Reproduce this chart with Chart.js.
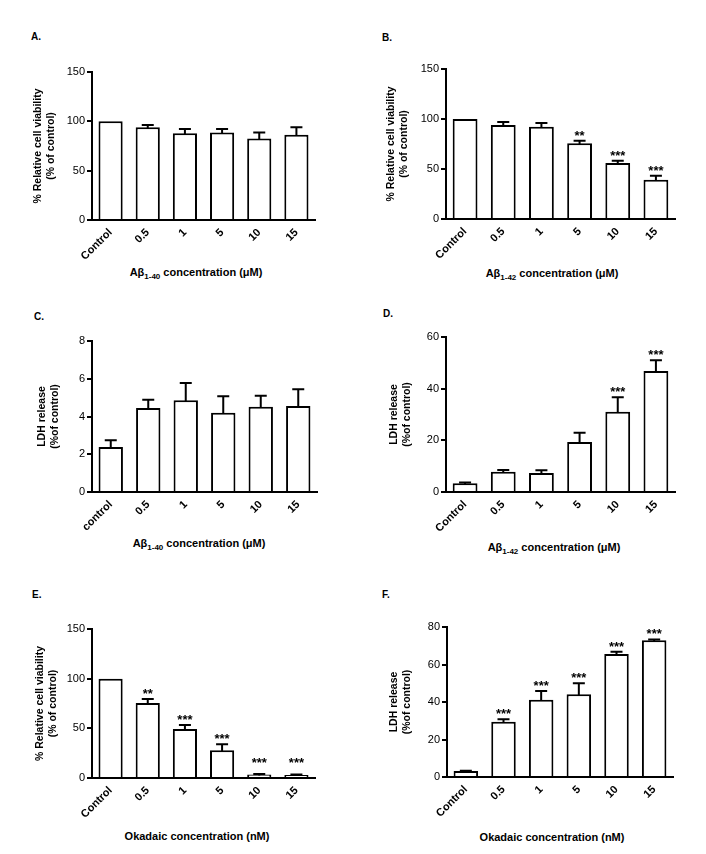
<!DOCTYPE html>
<html>
<head>
<meta charset="utf-8">
<script src="https://cdn.jsdelivr.net/npm/chart.js@4.4.1/dist/chart.umd.min.js"></script>
<style>
  html, body { margin: 0; padding: 0; background: #fff; }
  body { width: 706px; height: 854px; position: relative; overflow: hidden;
         font-family: "Liberation Sans", Arial, sans-serif; color: #000; }
  canvas { position: absolute; }
  .lbl { position: absolute; font-weight: bold; font-size: 10px; line-height: 12px; }
  .xt { position: absolute; font-weight: bold; font-size: 11px; line-height: 14px;
        white-space: nowrap; transform: translate(-50%, -50%); }
  .xt sub { font-size: 8px; vertical-align: -3px; line-height: 0; }
</style>
</head>
<body>
<div class="lbl" style="left:31px; top:31px;">A.</div>
<div class="lbl" style="left:382px; top:32px;">B.</div>
<div class="lbl" style="left:34px; top:311px;">C.</div>
<div class="lbl" style="left:383px; top:308px;">D.</div>
<div class="lbl" style="left:32px; top:589px;">E.</div>
<div class="lbl" style="left:382px; top:589px;">F.</div>

<div class="xt" style="left:196px; top:272px;">A&beta;<sub>1-40</sub> concentration (&mu;M)</div>
<div class="xt" style="left:552px; top:273px;">A&beta;<sub>1-42</sub> concentration (&mu;M)</div>
<div class="xt" style="left:199px; top:543px;">A&beta;<sub>1-40</sub> concentration (&mu;M)</div>
<div class="xt" style="left:554px; top:547px;">A&beta;<sub>1-42</sub> concentration (&mu;M)</div>
<div class="xt" style="left:197px; top:836px;">Okadaic concentration (nM)</div>
<div class="xt" style="left:552px; top:837px;">Okadaic concentration (nM)</div>

<script>
// categories
const doses = ['Control', '0.5', '1', '5', '10', '15'];
const dosesLower = ['control', '0.5', '1', '5', '10', '15'];

// A: viability, Abeta 1-40
const viabA = [100, 93.9, 87.8, 88.8, 82.7, 86.4];
const semA = [0, 2.4, 4.4, 3.4, 6.1, 7.5];
const starsA = ['', '', '', '', '', ''];

// B: viability, Abeta 1-42
const viabB = [100, 94, 92.3, 75.7, 56, 39.3];
const semB = [0, 3, 3.7, 2.6, 2.3, 4];
const starsB = ['', '', '', '**', '***', '***'];

// C: LDH, Abeta 1-40
const ldhC = [2.39, 4.45, 4.86, 4.2, 4.52, 4.56];
const semC = [0.35, 0.44, 0.92, 0.87, 0.58, 0.88];
const starsC = ['', '', '', '', '', ''];

// D: LDH, Abeta 1-42
const ldhD = [3.4, 7.8, 7.4, 19.4, 31.1, 46.8];
const semD = [0.3, 0.7, 1.0, 3.5, 5.6, 4.2];
const starsD = ['', '', '', '', '***', '***'];

// E: viability, okadaic acid
const viabE = [100, 75.5, 49.3, 27.9, 3.4, 3.0];
const semE = [0, 4.0, 4.1, 6.0, 0.6, 0.4];
const starsE = ['', '**', '***', '***', '***', '***'];

// F: LDH, okadaic acid
const ldhF = [3.2, 29.5, 41.2, 44.1, 65.6, 72.9];
const semF = [0.2, 1.3, 4.7, 5.9, 1.2, 0.5];
const starsF = ['', '***', '***', '***', '***', '***'];

Chart.defaults.font.family = '"Liberation Sans", Arial, sans-serif';
Chart.defaults.color = '#000';

// error bars (upper only) + significance stars
const errorBars = {
  id: 'errorBars',
  afterDatasetsDraw(chart) {
    const { ctx, scales: { y } } = chart;
    const ds = chart.data.datasets[0];
    const meta = chart.getDatasetMeta(0);
    const zeroY = y.getPixelForValue(0);
    ctx.save();
    ctx.strokeStyle = '#000';
    ctx.lineWidth = 2;
    meta.data.forEach((bar, i) => {
      let topY = bar.y;
      if (ds.sem[i] > 0) {
        topY = y.getPixelForValue(ds.data[i] + ds.sem[i]);
        ctx.beginPath();
        ctx.moveTo(bar.x, bar.y + 1);
        ctx.lineTo(bar.x, topY);
        ctx.moveTo(bar.x - 6, topY);
        ctx.lineTo(bar.x + 6, topY);
        ctx.stroke();
      }
      if (ds.stars[i]) {
        ctx.fillStyle = '#000';
        ctx.font = 'bold 13px "Liberation Sans", Arial, sans-serif';
        ctx.textAlign = 'center';
        ctx.textBaseline = 'alphabetic';
        ctx.fillText(ds.stars[i], bar.x, Math.min(topY - 1, zeroY - 11));
      }
    });
    ctx.restore();
  }
};

function makePanel(p, labels, values, sem, stars, yMax, yStep, yTitle) {
  const canvas = document.createElement('canvas');
  const top = p.plotTop - 10;
  const w = p.right - p.left + 6;
  const h = p.zeroY - p.plotTop + 10 + 50;
  canvas.width = w;
  canvas.height = h;
  canvas.style.left = p.left + 'px';
  canvas.style.top = top + 'px';
  canvas.style.width = w + 'px';
  canvas.style.height = h + 'px';
  document.body.appendChild(canvas);

  const titleSize = 10.5, titleLH = 1.25;

  new Chart(canvas, {
    type: 'bar',
    data: {
      labels: labels,
      datasets: [{
        data: values,
        sem: sem,
        stars: stars,
        backgroundColor: '#fff',
        borderColor: '#000',
        borderWidth: 2,
        barPercentage: 0.65,
        categoryPercentage: 1
      }]
    },
    options: {
      responsive: false,
      animation: false,
      events: [],
      layout: { padding: { top: 10, right: 6, left: 0, bottom: 0 } },
      plugins: { legend: { display: false }, tooltip: { enabled: false } },
      scales: {
        x: {
          grid: { display: false, drawTicks: true, tickLength: 4 },
          border: { display: true, color: '#000', width: 2 },
          ticks: { minRotation: 45, maxRotation: 45, autoSkip: false, padding: 2,
                   font: { size: 11, weight: 'bold' }, color: '#000' },
          afterFit: s => { s.height = 50; }
        },
        y: {
          min: 0,
          max: yMax,
          ticks: { stepSize: yStep, padding: 2, font: { size: 11 }, color: '#000' },
          grid: { drawOnChartArea: false, drawTicks: true, tickLength: 5, color: '#000', lineWidth: 2 },
          border: { display: true, color: '#000', width: 2 },
          title: {
            display: true,
            text: yTitle,
            color: '#000',
            font: { size: titleSize, weight: 'bold', lineHeight: titleLH },
            padding: { top: p.titleX - p.left - titleSize * titleLH / 2, bottom: 0 }
          },
          afterFit: s => { s.width = p.axisX - p.left; }
        }
      }
    },
    plugins: [errorBars]
  });
}

const viabTitle = ['% Relative cell viability', '(% of control)'];
const ldhTitle = ['LDH release', '(%of control)'];

makePanel({ left: 20, plotTop: 72, zeroY: 220, axisX: 92, right: 315, titleX: 38 },
  doses, viabA, semA, starsA, 150, 50, viabTitle);
makePanel({ left: 370, plotTop: 69, zeroY: 219, axisX: 446, right: 675, titleX: 391 },
  doses, viabB, semB, starsB, 150, 50, viabTitle);
makePanel({ left: 20, plotTop: 341, zeroY: 492, axisX: 92, right: 317, titleX: 42 },
  dosesLower, ldhC, semC, starsC, 8, 2, ldhTitle);
makePanel({ left: 370, plotTop: 337, zeroY: 492, axisX: 446, right: 675, titleX: 394 },
  doses, ldhD, semD, starsD, 60, 20, ldhTitle);
makePanel({ left: 20, plotTop: 629, zeroY: 778, axisX: 92, right: 315, titleX: 40 },
  doses, viabE, semE, starsE, 150, 50, viabTitle);
makePanel({ left: 370, plotTop: 627, zeroY: 777, axisX: 447, right: 673, titleX: 394 },
  doses, ldhF, semF, starsF, 80, 20, ldhTitle);
</script>
</body>
</html>
